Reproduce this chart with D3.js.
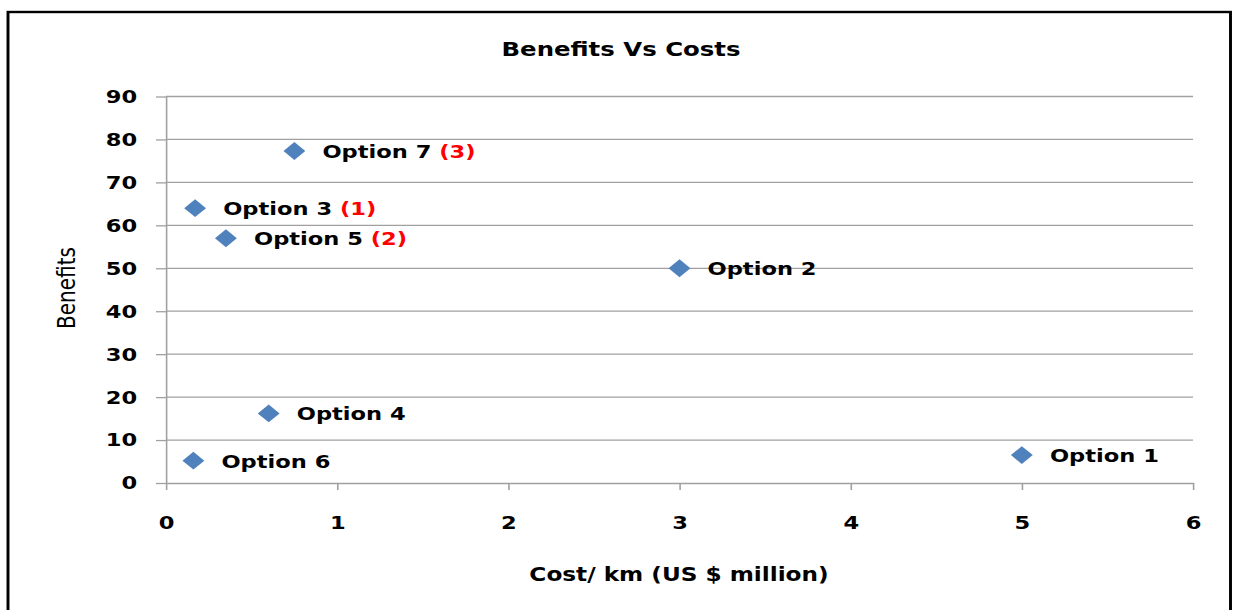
<!DOCTYPE html>
<html lang="en">
<head>
<meta charset="utf-8">
<title>Benefits Vs Costs</title>
<script src="https://cdn.jsdelivr.net/npm/d3@7"></script>
<style>
  body { margin: 0; background: #fff; }
  svg { display: block; }
  text { font-family: "DejaVu Sans", sans-serif; fill: #000; }
</style>
</head>
<body>
<div id="chart"></div>
<script>
// data
var options  = ["Option 1", "Option 2", "Option 3", "Option 4", "Option 5", "Option 6", "Option 7"];
var costs    = [5.0, 3.0, 0.17, 0.6, 0.35, 0.16, 0.75];
var benefits = [6.5, 50, 64, 16.2, 57, 5.2, 77.3];
var ranks    = ["", "", "(1)", "", "(2)", "", "(3)"];
var xTicks   = [0, 1, 2, 3, 4, 5, 6];
var yTicks   = [0, 10, 20, 30, 40, 50, 60, 70, 80, 90];

var w = 1235, h = 610;
// the original picture is stretched sideways, so draw in a narrower space and widen it
var SX = 1.22;

var plotLeft = 166 / SX, plotRight = 1193 / SX, plotTop = 96.5, plotBottom = 483;

var svg = d3.select("#chart").append("svg")
  .attr("width", w)
  .attr("height", h);

var g = svg.append("g").attr("transform", "scale(" + SX + ",1)");

// frame
g.append("rect")
  .attr("x", 8 / SX).attr("y", 12)
  .attr("width", (1230.5 - 8) / SX).attr("height", 640)
  .attr("fill", "none")
  .attr("stroke", "#000")
  .attr("stroke-width", 2.4);

var x = d3.scaleLinear().domain([0, 6]).range([plotLeft, plotRight]);
var y = d3.scaleLinear().domain([0, 90]).range([plotBottom, plotTop]);

// gridlines
g.append("g")
  .selectAll("line")
  .data(yTicks.filter(function(d) { return d > 0; }))
  .join("line")
  .attr("x1", plotLeft).attr("x2", plotRight)
  .attr("y1", function(d) { return y(d); })
  .attr("y2", function(d) { return y(d); })
  .attr("stroke", "#a0a0a0")
  .attr("stroke-width", 1.3);

// y axis
var yAxis = g.append("g")
  .attr("transform", "translate(" + plotLeft + ",0)")
  .call(d3.axisLeft(y).tickValues(yTicks).tickFormat(d3.format("d"))
    .tickSize(10 / SX).tickSizeOuter(0).tickPadding(15.5));
yAxis.select(".domain").attr("stroke", "#a0a0a0").attr("stroke-width", 1.3);
yAxis.selectAll(".tick line").attr("stroke", "#a0a0a0").attr("stroke-width", 1.3);
yAxis.selectAll(".tick text")
  .attr("font-family", "DejaVu Sans").attr("font-weight", "bold").attr("font-size", 18.5);

// x axis
var xAxis = g.append("g")
  .attr("transform", "translate(0," + plotBottom + ")")
  .call(d3.axisBottom(x).tickValues(xTicks).tickFormat(d3.format("d"))
    .tickSize(7).tickPadding(26).tickSizeOuter(0));
xAxis.select(".domain").attr("stroke", "#a0a0a0").attr("stroke-width", 1.3);
xAxis.selectAll(".tick line").attr("stroke", "#a0a0a0").attr("stroke-width", 1.3);
xAxis.selectAll(".tick text")
  .attr("font-family", "DejaVu Sans").attr("font-weight", "bold").attr("font-size", 18.5);

// points
var pts = options.map(function(o, i) {
  return { name: o, cost: costs[i], benefit: benefits[i], rank: ranks[i] };
});

var diamond = d3.symbol().type(d3.symbolSquare).size(160);

g.append("g")
  .selectAll("path")
  .data(pts)
  .join("path")
  .attr("d", diamond)
  .attr("transform", function(d) {
    return "translate(" + x(d.cost) + "," + y(d.benefit) + ") rotate(45)";
  })
  .attr("fill", "#4f81bd");

var labels = g.append("g")
  .selectAll("text")
  .data(pts)
  .join("text")
  .attr("x", function(d) { return x(d.cost) + 23; })
  .attr("y", function(d) { return y(d.benefit); })
  .attr("dy", "0.38em")
  .attr("font-weight", "bold")
  .attr("font-size", 18.5);
labels.append("tspan").text(function(d) { return d.name; });
labels.filter(function(d) { return d.rank; })
  .append("tspan")
  .style("fill", "#ff0000")
  .text(function(d) { return " " + d.rank; });

// titles
g.append("text")
  .attr("x", 621 / SX).attr("y", 56)
  .attr("text-anchor", "middle")
  .attr("font-weight", "bold")
  .attr("font-size", 20)
  .text("Benefits Vs Costs");

g.append("text")
  .attr("x", 679 / SX).attr("y", 581)
  .attr("text-anchor", "middle")
  .attr("font-weight", "bold")
  .attr("font-size", 19)
  .text("Cost/ km (US $ million)");

g.append("text")
  .attr("transform", "translate(" + (75 / SX) + ",288) rotate(-90)")
  .attr("text-anchor", "middle")
  .attr("font-size", 20)
  .text("Benefits");
</script>
</body>
</html>
